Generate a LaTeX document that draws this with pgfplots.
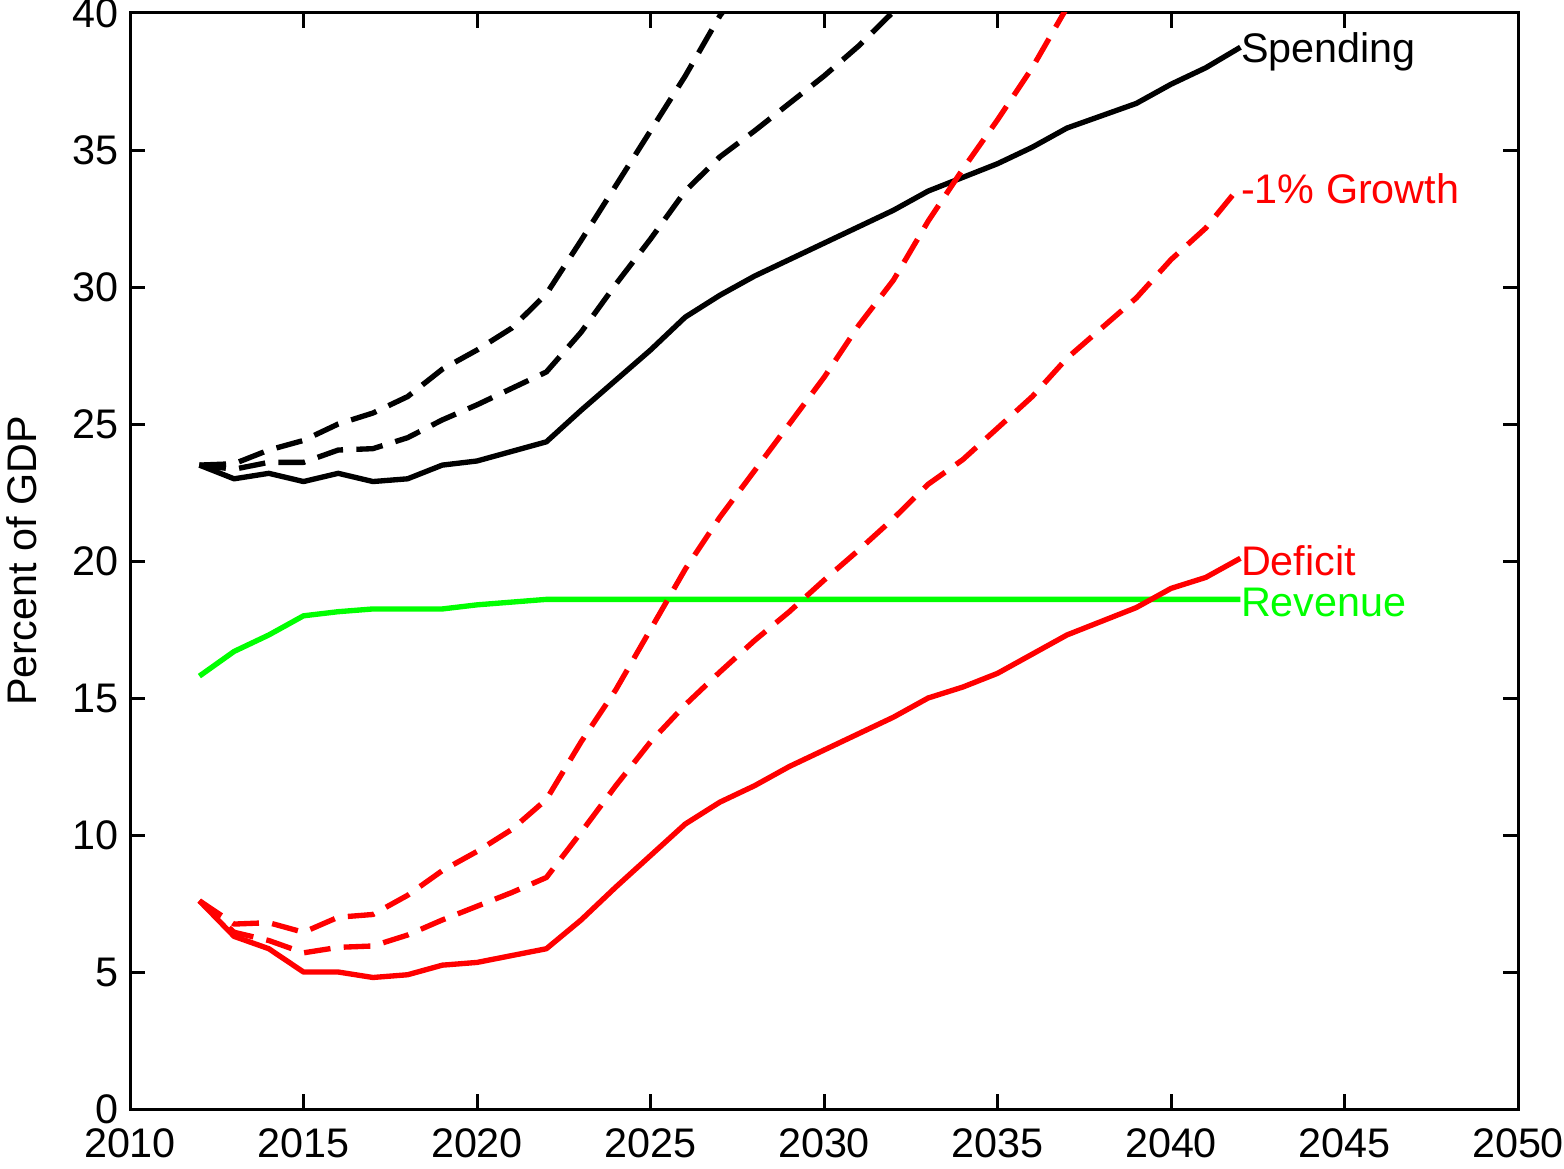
\documentclass[border=0pt]{standalone}
\usepackage{pgfplots}
\pgfplotsset{compat=1.18}
\usepackage{fontspec}
\setmainfont{Liberation Sans}
\definecolor{pred}{RGB}{255,0,0}
\definecolor{pgreen}{RGB}{0,255,0}
\begin{document}
\begin{tikzpicture}
\begin{axis}[
  scale only axis,
  width=416.4pt, height=328.8pt,
  xmin=2010, xmax=2050, ymin=0, ymax=40,
  xtick={2010,2015,...,2050},
  ytick={0,5,...,40},
  tick align=inside,
  major tick length=4.5pt,
  axis line style={line width=0.9pt},
  every tick/.style={black, line width=0.9pt},
  /pgf/number format/1000 sep={},
  /pgf/number format/assume math mode=true,
  font=\fontsize{12.4}{14.5}\selectfont,
  ticklabel style={font=\fontsize{12.4}{14.5}\selectfont},
  xticklabel style={yshift=-2.5pt},
  ylabel={Percent of GDP},
  every axis y label/.style={at={(rel axis cs:0,0.5)}, xshift=-32.4pt, rotate=90, anchor=center, font=\fontsize{12.4}{14.5}\selectfont},
  clip mode=individual,
  every axis plot/.append style={line width=1.6pt, line join=round},
  dashpat/.style={dash pattern=on 8pt off 4pt},
]
\coordinate (bl) at (rel axis cs:0,0);
\coordinate (tr) at (rel axis cs:1,1);
% Spending baseline
\addplot[black] coordinates {
(2012,23.5)(2013,23.0)(2014,23.2)(2015,22.9)(2016,23.2)(2017,22.9)(2018,23.0)(2019,23.5)(2020,23.65)(2021,24.0)(2022,24.35)
(2023,25.5)(2024,26.6)(2025,27.7)(2026,28.9)(2027,29.7)(2028,30.4)(2029,31.0)(2030,31.6)(2031,32.2)(2032,32.8)(2033,33.5)
(2034,34.0)(2035,34.5)(2036,35.1)(2037,35.8)(2038,36.25)(2039,36.7)(2040,37.4)(2041,38.0)(2042,38.75)};
% Spending, higher scenario
\addplot[black, dashpat] coordinates {
(2012,23.5)(2013,23.55)(2014,24.05)(2015,24.4)(2016,25.0)(2017,25.4)(2018,26.0)(2019,27.0)(2020,27.7)(2021,28.5)(2022,29.75)
(2023,31.7)(2024,33.7)(2025,35.7)(2026,37.7)(2027,39.9)(2028,41.6)};
% Spending, middle scenario
\addplot[black, dashpat] coordinates {
(2012,23.5)(2013,23.35)(2014,23.6)(2015,23.6)(2016,24.05)(2017,24.1)(2018,24.5)(2019,25.15)(2020,25.7)(2021,26.3)(2022,26.9)
(2023,28.35)(2024,30.1)(2025,31.75)(2026,33.5)(2027,34.75)(2028,35.7)(2029,36.7)(2030,37.7)(2031,38.8)(2032,40.05)(2033,41.2)};
% Revenue
\addplot[pgreen] coordinates {
(2012,15.8)(2013,16.7)(2014,17.3)(2015,18.0)(2016,18.15)(2017,18.25)(2018,18.25)(2019,18.25)(2020,18.4)(2021,18.5)(2022,18.6)
(2023,18.6)(2030,18.6)(2042,18.6)};
% Deficit baseline
\addplot[pred] coordinates {
(2012,7.6)(2013,6.3)(2014,5.85)(2015,5.0)(2016,5.0)(2017,4.8)(2018,4.9)(2019,5.25)(2020,5.35)(2021,5.6)(2022,5.85)
(2023,6.9)(2024,8.1)(2025,9.25)(2026,10.4)(2027,11.2)(2028,11.8)(2029,12.5)(2030,13.1)(2031,13.7)(2032,14.3)(2033,15.0)
(2034,15.4)(2035,15.9)(2036,16.6)(2037,17.3)(2038,17.8)(2039,18.3)(2040,19.0)(2041,19.4)(2042,20.1)};
% Deficit, higher scenario
\addplot[pred, dashpat] coordinates {
(2012,7.6)(2013,6.75)(2014,6.8)(2015,6.45)(2016,7.0)(2017,7.1)(2018,7.8)(2019,8.7)(2020,9.4)(2021,10.2)(2022,11.3)
(2023,13.4)(2024,15.3)(2025,17.5)(2026,19.7)(2027,21.6)(2028,23.3)(2029,25.0)(2030,26.7)(2031,28.6)(2032,30.25)(2033,32.4)
(2034,34.3)(2035,36.1)(2036,38.0)(2037,40.2)(2038,42.0)};
% Deficit, -1% growth
\addplot[pred, dashpat] coordinates {
(2012,7.6)(2013,6.45)(2014,6.15)(2015,5.7)(2016,5.9)(2017,5.95)(2018,6.35)(2019,6.9)(2020,7.4)(2021,7.9)(2022,8.45)
(2023,10.1)(2024,11.8)(2025,13.4)(2026,14.75)(2027,15.95)(2028,17.1)(2029,18.15)(2030,19.3)(2031,20.4)(2032,21.55)(2033,22.8)
(2034,23.7)(2035,24.85)(2036,26.0)(2037,27.4)(2038,28.5)(2039,29.6)(2040,31.0)(2041,32.15)(2042,33.7)};
\node[anchor=west, inner sep=0pt, black] at (axis cs:2042,38.6) {Spending};
\node[anchor=west, inner sep=0pt, text=pred] at (axis cs:2042,33.6) {-1\% Growth};
\node[anchor=west, inner sep=0pt, text=pred] at (axis cs:2042,20.0) {Deficit};
\node[anchor=west, inner sep=0pt, text=pgreen] at (axis cs:2042,18.5) {Revenue};
\end{axis}
\pgfresetboundingbox
\path ([shift={(-39pt,-17.7pt)}]bl) rectangle ([shift={(13.8pt,3.9pt)}]tr);
\end{tikzpicture}
\end{document}
